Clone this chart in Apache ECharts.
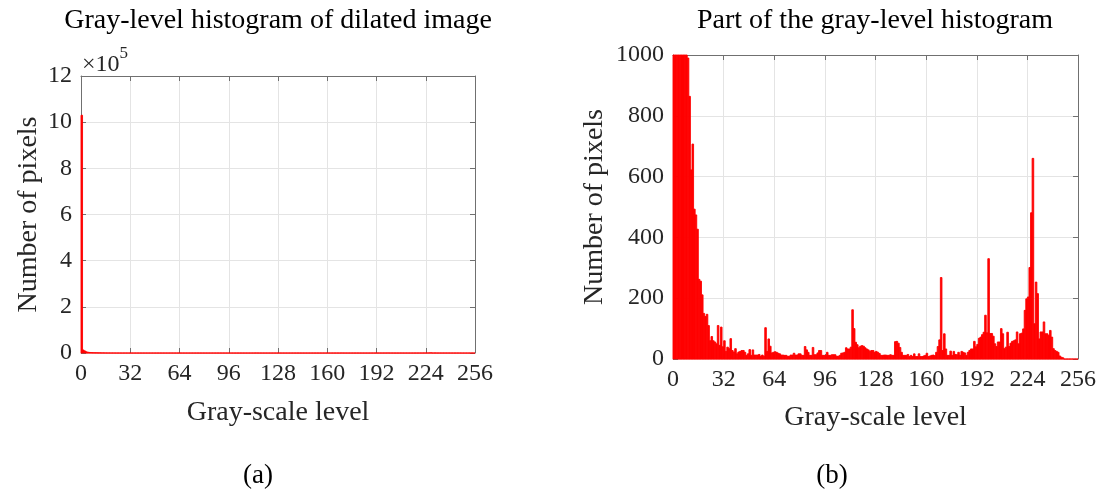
<!DOCTYPE html>
<html>
<head>
<meta charset="utf-8">
<script src="https://cdn.jsdelivr.net/npm/echarts@6/dist/echarts.min.js"></script>
<style>
  html, body { margin: 0; padding: 0; background: #ffffff; }
  #chart { width: 1104px; height: 496px; }
</style>
</head>
<body>
<div id="chart"></div>
<script>
// Pixel counts per gray level (0..255) of the dilated image
const pixelCounts = [
  1030000, 13000, 9000, 5200, 3400, 2500, 1800, 1400, 1150, 990,
  864, 622, 707, 493, 474, 427, 262, 256, 211, 150,
  140, 147, 110, 60, 74, 60, 56, 50, 110, 45,
  105, 40, 60, 25, 39, 34, 67, 28, 23, 34,
  17, 23, 25, 28, 28, 22, 12, 17, 31, 12,
  30, 13, 13, 13, 15, 9, 13, 9, 103, 25,
  66, 42, 20, 22, 24, 22, 19, 17, 13, 13,
  12, 12, 9, 9, 13, 13, 19, 13, 13, 17,
  17, 12, 12, 41, 30, 22, 12, 12, 38, 14,
  14, 20, 28, 28, 12, 12, 12, 22, 12, 12,
  14, 14, 14, 9, 9, 12, 19, 20, 22, 37,
  33, 33, 39, 162, 100, 55, 47, 37, 42, 44,
  42, 37, 33, 30, 25, 28, 28, 22, 25, 22,
  18, 12, 12, 13, 13, 12, 12, 14, 12, 12,
  57, 58, 52, 38, 22, 12, 12, 12, 15, 8,
  12, 8, 17, 8, 8, 17, 8, 8, 10, 12,
  19, 8, 10, 12, 13, 11, 22, 41, 63, 268,
  28, 83, 33, 12, 12, 26, 12, 25, 15, 14,
  22, 12, 25, 22, 20, 12, 22, 28, 33, 33,
  58, 40, 48, 68, 72, 80, 88, 144, 86, 330,
  84, 84, 75, 50, 41, 56, 56, 100, 83, 34,
  39, 88, 41, 52, 58, 60, 63, 89, 50, 83,
  85, 99, 160, 198, 204, 301, 481, 660, 116, 253,
  215, 66, 89, 89, 122, 83, 83, 78, 94, 72,
  34, 28, 25, 22, 10, 6, 4, 0, 0, 0,
  0, 0, 0, 0, 0, 0
];

// Axis settings
const grayRange = [0, 256];
const grayStep = 32;
const fullRange = [0, 1200000];
const fullStep = 200000;
const fullScale = 100000;           // tick labels shown in units of 10^5
const partRange = [0, 1000];
const partStep = 200;

const titles = ['Gray-level histogram of dilated image', 'Part of the gray-level histogram'];
const captions = ['(a)', '(b)'];
const xName = 'Gray-scale level';
const yName = 'Number of pixels';

const FONT = '"Liberation Serif", "Times New Roman", serif';
const TXT = '#262626';
const AXIS = '#707070';
const GRID = '#e4e4e4';
const BAR = '#ff0000';

// one histogram bin per level: [binStart, binEnd, count]
const binData = pixelCounts.map((v, level) => [level, level + 1, v]);

const grids = [
  { left: 81, top: 76, width: 394, height: 277 },
  { left: 673, top: 55, width: 405, height: 304 }
];

function mainX(gi, gap) {
  return {
    type: 'value', gridIndex: gi, position: 'bottom',
    min: grayRange[0], max: grayRange[1], interval: grayStep,
    axisLine: { show: true, onZero: false, lineStyle: { color: '#f3a3a3', width: 1 } },
    axisTick: { show: true, inside: true, length: 5, lineStyle: { color: AXIS } },
    axisLabel: { color: TXT, fontFamily: FONT, fontSize: 24, margin: 9 },
    splitLine: { show: true, lineStyle: { color: GRID, width: 1 } },
    name: xName, nameLocation: 'middle', nameGap: gap,
    nameTextStyle: { color: TXT, fontFamily: FONT, fontSize: 28 }
  };
}
function topX(gi) {
  return {
    type: 'value', gridIndex: gi, position: 'top',
    min: grayRange[0], max: grayRange[1], interval: grayStep,
    axisLine: { show: true, onZero: false, lineStyle: { color: AXIS, width: 1 } },
    axisTick: { show: true, inside: true, length: 5, lineStyle: { color: AXIS } },
    axisLabel: { show: false }, splitLine: { show: false }
  };
}
function mainY(gi, range, step, fmt, gap) {
  return {
    type: 'value', gridIndex: gi, position: 'left',
    min: range[0], max: range[1], interval: step,
    axisLine: { show: true, onZero: false, lineStyle: { color: AXIS, width: 1 } },
    axisTick: { show: true, inside: true, length: 5, lineStyle: { color: AXIS } },
    axisLabel: { color: TXT, fontFamily: FONT, fontSize: 24, margin: 9, formatter: fmt },
    splitLine: { show: true, lineStyle: { color: GRID, width: 1 } },
    name: yName, nameLocation: 'middle', nameGap: gap,
    nameTextStyle: { color: TXT, fontFamily: FONT, fontSize: 28 }
  };
}
function rightY(gi, range, step) {
  return {
    type: 'value', gridIndex: gi, position: 'right',
    min: range[0], max: range[1], interval: step,
    axisLine: { show: true, onZero: false, lineStyle: { color: AXIS, width: 1 } },
    axisTick: { show: true, inside: true, length: 5, lineStyle: { color: AXIS } },
    axisLabel: { show: false }, splitLine: { show: false }
  };
}

// a bin is a rectangle from its level span down to zero, cut to the plot area;
// the thin same-colour outline closes the hairline seams between neighbours
function renderBin(params, api) {
  const p0 = api.coord([api.value(0), 0]);
  const p1 = api.coord([api.value(1), api.value(2)]);
  const cs = params.coordSys;
  const rect = echarts.graphic.clipRectByRect(
    { x: p0[0], y: p1[1], width: p1[0] - p0[0], height: p0[1] - p1[1] },
    { x: cs.x, y: cs.y, width: cs.width, height: cs.height }
  );
  if (!rect) return null;
  return {
    type: 'rect', shape: rect,
    style: { fill: BAR, stroke: BAR, lineWidth: 0.9 }
  };
}
function histSeries(xi, yi) {
  return {
    type: 'custom', xAxisIndex: xi, yAxisIndex: yi,
    data: binData, encode: { x: [0, 1], y: 2 },
    renderItem: renderBin, animation: false, silent: true
  };
}

function textBlock(text, x, y, size) {
  return {
    text: text, left: x, top: y, padding: 0,
    textAlign: 'center', textVerticalAlign: 'middle',
    textStyle: { color: '#000', fontFamily: FONT, fontSize: size, fontWeight: 'normal' }
  };
}

const option = {
  backgroundColor: '#ffffff',
  animation: false,
  title: [
    textBlock(titles[0], 278, 21, 28),
    textBlock(titles[1], 875, 21, 28),
    textBlock(captions[0], 258, 476, 27),
    textBlock(captions[1], 832, 476, 27),
    {
      text: '{x|×10}{s|5}', left: 82, top: 45, padding: 0,
      textStyle: {
        fontWeight: 'normal',
        rich: {
          x: { fontFamily: FONT, fontSize: 24, fontWeight: 'normal', color: TXT, padding: [8, 0, 0, 0] },
          s: { fontFamily: FONT, fontSize: 17, fontWeight: 'normal', color: TXT, verticalAlign: 'top' }
        }
      }
    }
  ],
  grid: grids,
  xAxis: [mainX(0, 46), topX(0), mainX(1, 45), topX(1)],
  yAxis: [
    mainY(0, fullRange, fullStep, v => String(v / fullScale), 38),
    rightY(0, fullRange, fullStep),
    mainY(1, partRange, partStep, v => String(v), 64),
    rightY(1, partRange, partStep)
  ],
  series: [histSeries(0, 0), histSeries(2, 2)]
};

const chart = echarts.init(document.getElementById('chart'), null, { renderer: 'canvas' });
chart.setOption(option);
</script>
</body>
</html>
